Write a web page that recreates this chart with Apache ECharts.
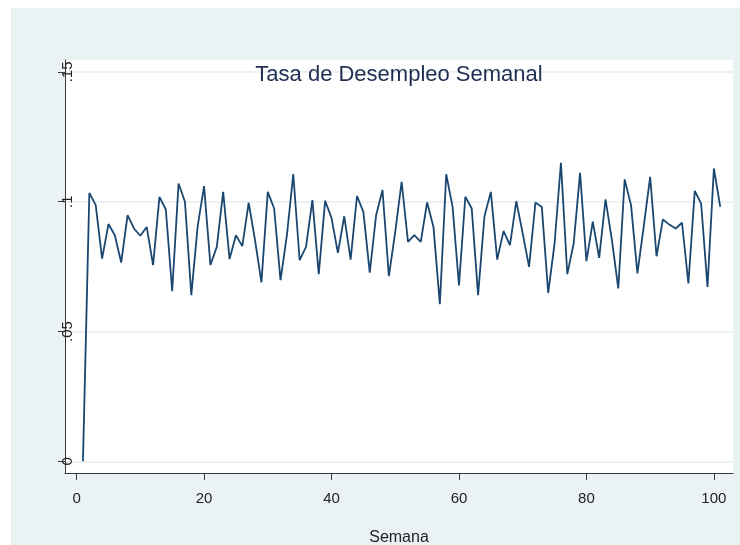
<!DOCTYPE html>
<html>
<head>
<meta charset="utf-8">
<script src="https://cdn.jsdelivr.net/npm/echarts@6/dist/echarts.min.js"></script>
<style>
html,body{margin:0;padding:0;background:#ffffff;}
#chart{width:740px;height:545px;}
</style>
</head>
<body>
<div id="chart"></div>
<script>
const titleText = "Tasa de Desempleo Semanal";
const xAxisName = "Semana";
const xTicks = [0, 20, 40, 60, 80, 100];
const yTicks = [0, 0.05, 0.1, 0.15];
const yTickLabels = ["0", ".05", ".1", ".15"];
const tasa = [
  0, 0.1034, 0.0987, 0.0781, 0.0914, 0.0871, 0.0766, 0.0948, 0.0897, 0.0869,
  0.0903, 0.0756, 0.1019, 0.0970, 0.0655, 0.1070, 0.1000, 0.0640, 0.0906, 0.1060,
  0.0756, 0.0826, 0.1038, 0.0779, 0.0871, 0.0829, 0.0996, 0.0852, 0.0689, 0.1038,
  0.0974, 0.0698, 0.0871, 0.1106, 0.0775, 0.0826, 0.1006, 0.0721, 0.1004, 0.0938,
  0.0803, 0.0944, 0.0777, 0.1022, 0.0961, 0.0727, 0.0948, 0.1045, 0.0713, 0.0884,
  0.1077, 0.0845, 0.0871, 0.0845, 0.0997, 0.0903, 0.0605, 0.1106, 0.0980, 0.0678,
  0.1019, 0.0974, 0.0640, 0.0944, 0.1038, 0.0777, 0.0887, 0.0833, 0.1002, 0.0878,
  0.0749, 0.0997, 0.0980, 0.0649, 0.0839, 0.1150, 0.0721, 0.0839, 0.1111, 0.0771,
  0.0923, 0.0784, 0.1009, 0.0852, 0.0666, 0.1086, 0.0987, 0.0724, 0.0906, 0.1096,
  0.0790, 0.0932, 0.0912, 0.0897, 0.0919, 0.0685, 0.1042, 0.0993, 0.0672, 0.1128,
  0.0980
];
const semanas = tasa.map((v, i) => i + 1);

const FONT = "'Liberation Sans Narrow', 'Arial Narrow', 'Liberation Sans', Arial, sans-serif";
const chart = echarts.init(document.getElementById('chart'), null, {renderer: 'canvas'});
chart.setOption({
  animation: false,
  backgroundColor: '#ffffff',
  graphic: [{
    type: 'rect', z: -10, silent: true,
    shape: {x: 11, y: 8, width: 729, height: 537},
    style: {fill: '#eaf2f3'}
  }],
  title: {
    text: titleText,
    left: 399,
    textAlign: 'center',
    top: 64,
    padding: 0,
    textStyle: {fontFamily: FONT, fontSize: 22, fontWeight: 'normal', color: '#1e2d50'}
  },
  grid: {
    left: 65, right: 7, top: 60, bottom: 72,
    containLabel: false,
    outerBoundsMode: 'none',
    show: true, backgroundColor: '#ffffff', borderWidth: 0
  },
  xAxis: {
    type: 'value',
    min: -1.82, max: 103.0,
    name: xAxisName,
    nameLocation: 'middle',
    nameGap: 57,
    nameTextStyle: {fontFamily: FONT, fontSize: 16, color: '#222'},
    axisLine: {show: true, onZero: false, lineStyle: {color: '#3a3a3a', width: 1}},
    axisTick: {show: true, length: 7, customValues: xTicks, lineStyle: {color: '#3a3a3a'}},
    axisLabel: {customValues: xTicks, margin: 18, fontFamily: FONT, fontSize: 15, color: '#222'},
    splitLine: {show: false}
  },
  yAxis: {
    type: 'value',
    min: -0.0045, max: 0.1546,
    axisLine: {show: true, onZero: false, lineStyle: {color: '#3a3a3a', width: 1}},
    axisTick: {show: true, length: 7, customValues: yTicks, lineStyle: {color: '#3a3a3a'}},
    axisLabel: {
      customValues: yTicks,
      rotate: 90, margin: -10,
      fontFamily: FONT, fontSize: 15, color: '#222',
      formatter: function (v) {
        const idx = yTicks.findIndex(t => Math.abs(t - v) < 1e-9);
        return idx >= 0 ? yTickLabels[idx] : '';
      }
    },
    splitLine: {show: true, lineStyle: {color: '#e6eef0', width: 1.5}}
  },
  series: [{
    type: 'line',
    data: semanas.map((s, i) => [s, tasa[i]]),
    showSymbol: false,
    symbol: 'none',
    lineStyle: {color: '#1a476f', width: 1.8},
    z: 5
  }]
});
</script>
</body>
</html>
